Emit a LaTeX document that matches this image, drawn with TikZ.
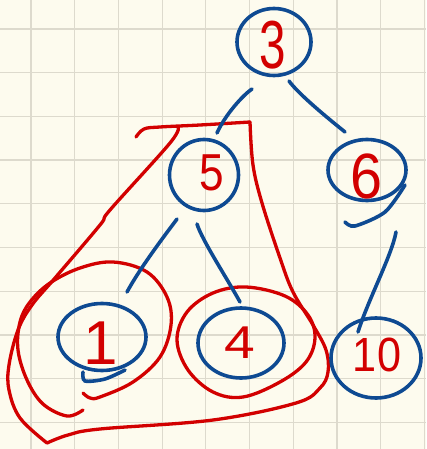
\documentclass[tikz,border=0pt]{standalone}
\usepackage{fontspec}
\setmainfont{Liberation Sans}
\usetikzlibrary{shapes.geometric,calc}
\definecolor{paper}{RGB}{253,251,238}
\definecolor{gridc}{RGB}{221,218,205}
\definecolor{ink}{RGB}{14,74,146}
\definecolor{pen}{RGB}{210,0,0}
\tikzset{
  vtx/.style={ellipse, draw=ink, line width=3.6pt, inner sep=0pt},
  edge/.style={draw=ink, line width=3.6pt, line cap=round},
  redloop/.style={draw=pen, line width=3.3pt, line cap=round, line join=round},
  dig/.style={text=pen, inner sep=0pt},
  gridline/.style={draw=gridc, line width=1.2pt},
}
\newcommand\hd[3]{\scalebox{#2}[1]{\fontsize{#1}{#1}\selectfont #3}}
\begin{document}
\begin{tikzpicture}[x=1pt,y=-1pt]
\fill[paper] (0,0) rectangle (426,449);
\useasboundingbox (0,0) rectangle (426,449);
\foreach \i in {0,...,9} {
  \draw[gridline] ({31+43.7*\i},0) -- ({31+43.7*\i},449);
  \draw[gridline] (0,{29+43.7*\i}) -- (426,{29+43.7*\i});
}
% red groupings
\draw[redloop] plot[smooth,tension=0.6] coordinates {(136,137) (144,129) (160,127) (200,125) (250,122)};
\draw[redloop] plot[smooth,tension=0.6] coordinates {(250,122) (253,165) (262,203) (280,258) (293,292) (313,325) (326,350) (328,372) (320,388) (296,403) (213,420) (100,429) (68,435) (47,443)};
\draw[redloop] plot[smooth,tension=0.6] coordinates {(47,443) (20,418) (9,390) (9,365) (18,330) (32,305) (55,278) (100,225) (110,210) (170,143) (178,127)};
\draw[redloop] plot[smooth,tension=0.6] coordinates {(83,410) (67,416) (43,404) (27,380) (18,350) (20,322) (30,302) (50,283) (80,268) (113,262) (147,272) (167,297) (171,325) (160,357) (133,382) (100,397) (90,398) (83,393)};
\draw[redloop] plot[smooth cycle,tension=0.6] coordinates {(246,287) (285,296) (308,315) (315,338) (306,362) (280,382) (243,397) (213,392) (188,370) (177,340) (187,312) (213,293)};
% nodes
\node[vtx, minimum width=74pt, minimum height=67pt, label={[dig,xshift=-1pt,yshift=-3pt]center:\hd{68}{0.7}{3}}] (n3) at (274,42) {};
\node[vtx, minimum width=69pt, minimum height=71pt, label={[dig,xshift=8pt,yshift=2pt]center:\hd{52}{0.85}{5}}] (n5) at (204,175) {};
\node[vtx, minimum width=78pt, minimum height=61pt, label={[dig,yshift=-6pt]center:\hd{64}{0.9}{6}}] (n6) at (367,170) {};
\node[vtx, minimum width=88pt, minimum height=67pt, label={[dig,xshift=-1pt,yshift=-6pt]center:\hd{62}{1}{1}}] (n1) at (102,337) {};
\node[vtx, minimum width=86pt, minimum height=70pt, label={[dig,xshift=-1pt]center:\hd{46}{1.2}{4}}] (n4) at (241,343) {};
\node[vtx, minimum width=90pt, minimum height=80pt, label={[dig,xshift=1pt,yshift=3pt]center:\hd{48}{0.9}{10}}] (n10) at (376,358) {};
% small hand-drawn tails
\draw[edge] plot[smooth] coordinates {($(n6)+(38,15)$) ($(n6)+(18,42)$) ($(n6)+(-12,56)$) ($(n6)+(-22,52)$)};
\draw[edge] plot[smooth] coordinates {($(n1)+(-19,35)$) ($(n1)+(-17,44)$) ($(n1)+(3,42)$) ($(n1)+(23,33)$)};
% edges
\draw[edge] ($(n3)+(-22,47)$) .. controls ($(n3)+(-31,53)$) and ($(n5)+(21,-60)$) .. ($(n5)+(13,-42)$);
\draw[edge] ($(n3)+(15,39)$) .. controls ($(n3)+(23,50)$) and ($(n6)+(-47,-58)$) .. ($(n6)+(-22,-38)$);
\draw[edge] ($(n5)+(-27,44)$) .. controls ($(n5)+(-39,60)$) and ($(n1)+(38,-69)$) .. ($(n1)+(25,-45)$);
\draw[edge] ($(n5)+(-7,49)$) .. controls ($(n5)+(-2,65)$) and ($(n4)+(-16,-68)$) .. ($(n4)+(-1,-41)$);
\draw[edge] ($(n6)+(29,62)$) .. controls ($(n6)+(25,85)$) and ($(n10)+(-8,-58)$) .. ($(n10)+(-18,-26)$);
\end{tikzpicture}
\end{document}
